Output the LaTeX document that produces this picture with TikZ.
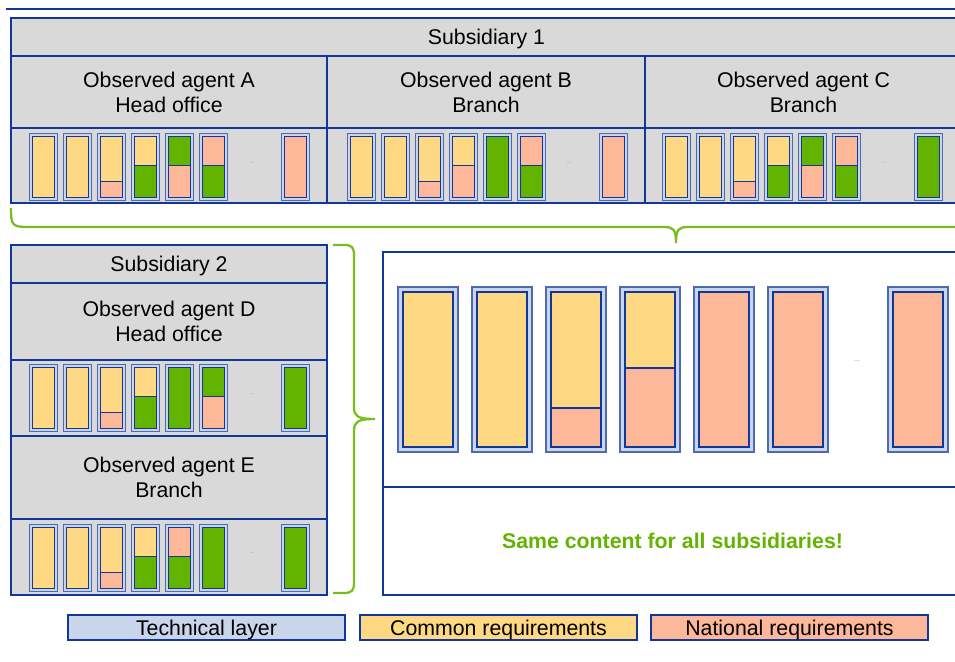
\documentclass[tikz,border=0pt]{standalone}
\usepackage{fontspec}
\setmainfont{Liberation Sans}

\definecolor{ecbblue}{RGB}{18,55,155}
\definecolor{boxgrey}{RGB}{217,217,217}
\definecolor{techblue}{RGB}{201,213,234}
\definecolor{yel}{RGB}{254,216,130}
\definecolor{pnk}{RGB}{253,183,153}
\definecolor{grn}{RGB}{98,180,0}
\definecolor{bracegreen}{RGB}{120,190,30}

\tikzset{
  greybox/.style={draw=ecbblue,fill=boxgrey,line width=1.5pt,anchor=north west,inner sep=0pt,outer sep=0pt,align=center},
  techbar/.style={draw=ecbblue!75,fill=techblue},
  reqbox/.style={draw=ecbblue},
  legendbox/.style={draw=ecbblue,line width=1.5pt,anchor=north west,inner sep=0pt,outer sep=0pt,minimum width=277pt,minimum height=25pt,text depth=0pt},
  dots/.style={font=\fontsize{5}{5}\selectfont,text=gray},
  brace/.style={draw=bracegreen,line width=2.3pt}
}

% one requirement bar: x, y, width, height, inset, top colour, split, bottom colour
\newcommand{\reqbar}[8]{%
  \draw[techbar] (#1,#2) rectangle ++(#3,#4);
  \draw[reqbox,fill=#8] ({#1+#5},{#2+#5}) rectangle ++({#3-2*#5},{#4-2*#5});
  \draw[reqbox,fill=#6] ({#1+#5},{#2+#5}) rectangle ++({#3-2*#5},{(#4-2*#5)*#7});
}

\begin{document}
\begin{tikzpicture}[x=1pt,y=-1pt,font=\fontsize{21.3}{25}\selectfont]
  \clip (0,0) rectangle (955,661);
  \draw[ecbblue,line width=2pt] (6,9) -- (962,9);
  % Subsidiary 1
  \node[greybox,minimum width=951pt,minimum height=38pt,text depth=0pt] (sub1) at (11,18) {Subsidiary 1};
  \node[greybox,minimum width=316pt,minimum height=72pt] (agA) at (sub1.south west) {Observed agent A\\Head office};
  \node[greybox,minimum width=318pt,minimum height=72pt] (agB) at (agA.north east) {Observed agent B\\Branch};
  \node[greybox,minimum width=317pt,minimum height=72pt] (agC) at (agB.north east) {Observed agent C\\Branch};
  \node[greybox,minimum width=316pt,minimum height=75pt] (rowA) at (agA.south west) {};
  \node[greybox,minimum width=318pt,minimum height=75pt] (rowB) at (agB.south west) {};
  \node[greybox,minimum width=317pt,minimum height=75pt] (rowC) at (agC.south west) {};
  \begin{scope}[line width=0.8pt]
    \foreach \i/\t/\s/\b in {0/yel/1/yel,1/yel/1/yel,2/yel/0.75/pnk,3/yel/0.49/grn,4/grn/0.49/pnk,5/pnk/0.49/grn,7.41/pnk/1/pnk}
      {\reqbar{29+34*\i}{133}{28}{67}{3}{\t}{\s}{\b}}
    \foreach \i/\t/\s/\b in {0/yel/1/yel,1/yel/1/yel,2/yel/0.75/pnk,3/yel/0.49/pnk,4/grn/1/grn,5/pnk/0.49/grn,7.41/pnk/1/pnk}
      {\reqbar{347+34*\i}{133}{28}{67}{3}{\t}{\s}{\b}}
    \foreach \i/\t/\s/\b in {0/yel/1/yel,1/yel/1/yel,2/yel/0.75/pnk,3/yel/0.49/grn,4/grn/0.49/pnk,5/pnk/0.49/grn,7.41/grn/1/grn}
      {\reqbar{662+34*\i}{133}{28}{67}{3}{\t}{\s}{\b}}
  \end{scope}
  \node[dots] (dotsA) at (252,163) {...};
  \node[dots] (dotsB) at (569,163) {...};
  \node[dots] (dotsC) at (885,163) {...};
  % Subsidiary 2
  \node[greybox,minimum width=316pt,minimum height=38pt,text depth=0pt] (sub2) at (11,245) {Subsidiary 2};
  \node[greybox,minimum width=316pt,minimum height=77pt] (agD) at (sub2.south west) {Observed agent D\\Head office};
  \node[greybox,minimum width=316pt,minimum height=76pt] (rowD) at (agD.south west) {};
  \node[greybox,minimum width=316pt,minimum height=83pt] (agE) at (rowD.south west) {Observed agent E\\Branch};
  \node[greybox,minimum width=316pt,minimum height=76pt] (rowE) at (agE.south west) {};
  \begin{scope}[line width=0.8pt]
    \foreach \i/\t/\s/\b in {0/yel/1/yel,1/yel/1/yel,2/yel/0.75/pnk,3/yel/0.49/grn,4/grn/1/grn,5/grn/0.49/pnk,7.41/grn/1/grn}
      {\reqbar{29+34*\i}{364}{28}{67}{3}{\t}{\s}{\b}}
    \foreach \i/\t/\s/\b in {0/yel/1/yel,1/yel/1/yel,2/yel/0.75/pnk,3/yel/0.49/grn,4/pnk/0.49/grn,5/grn/1/grn,7.41/grn/1/grn}
      {\reqbar{29+34*\i}{524}{28}{67}{3}{\t}{\s}{\b}}
  \end{scope}
  \node[dots] (dotsD) at (252,394) {...};
  \node[dots] (dotsE) at (252,553) {...};
  % common content
  \node[draw=ecbblue,line width=1.5pt,anchor=north west,outer sep=0pt,minimum width=579pt,minimum height=235pt] (common) at (383,252) {};
  \node[draw=ecbblue,line width=1.5pt,anchor=north west,outer sep=0pt,minimum width=579pt,minimum height=108pt,text=grn,font=\fontsize{21.3}{25}\selectfont\bfseries] (note) at (common.south west) {Same content for all subsidiaries!};
  \begin{scope}[line width=1.7pt]
    \foreach \i/\t/\s/\b in {0/yel/1/yel,1/yel/1/yel,2/yel/0.75/pnk,3/yel/0.49/pnk,4/pnk/1/pnk,5/pnk/1/pnk,6.62/pnk/1/pnk}
      {\reqbar{398+74*\i}{287}{60}{165}{5}{\t}{\s}{\b}}
  \end{scope}
  \node[dots,font=\fontsize{7}{7}\selectfont] (dotsX) at (857,361) {...};
  % braces
  \draw[brace] (11,208) .. controls (11,225) and (12,227) .. (28,227) -- (664,227)
    .. controls (673,227) and (676,229) .. (676,243) .. controls (676,229) and (679,227) .. (688,227) -- (962,227);
  \draw[brace] (333,245) -- (344,245) .. controls (352,245) and (354,247) .. (354,256) -- (354,407)
    .. controls (354,416) and (357,419) .. (375,419) .. controls (357,419) and (354,422) .. (354,431)
    -- (354,582) .. controls (354,591) and (352,593) .. (343,593) -- (333,593);
  % legend
  \node[legendbox,fill=techblue] (legtech) at (68,615) {Technical layer};
  \node[legendbox,fill=yel] (legcommon) at (360,615) {Common requirements};
  \node[legendbox,fill=pnk] (legnat) at (651,615) {National requirements};
\end{tikzpicture}
\end{document}
